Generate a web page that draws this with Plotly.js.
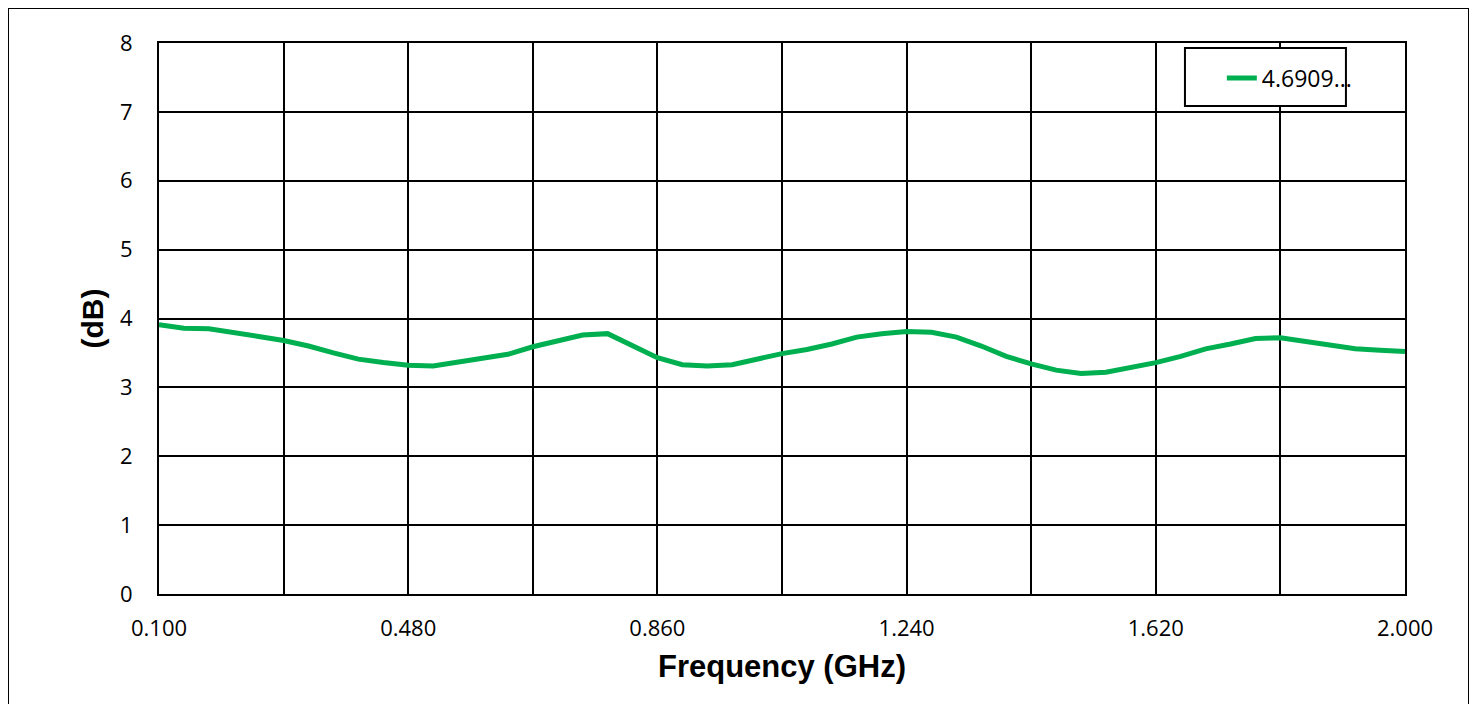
<!DOCTYPE html>
<html>
<head>
<meta charset="utf-8">
<script src="https://cdn.plot.ly/plotly-3.0.1.min.js"></script>
<style>
html,body{margin:0;padding:0;background:#fff;}
#wrap{position:relative;width:1477px;height:704px;overflow:hidden;}
#frame{position:absolute;left:8px;top:8px;width:1461px;height:720px;border:1.5px solid #000;box-sizing:border-box;pointer-events:none;}
#chart{position:absolute;left:0;top:0;width:1477px;height:704px;}
</style>
</head>
<body>
<div id="wrap">
<div id="chart"></div>
<div id="frame"></div>
</div>
<script>
var seriesName = "4.6909...";
var freqStart = 0.1;
var freqStep = 0.038;
var gainDb = [
  3.91, 3.86, 3.85, 3.80, 3.74, 3.68, 3.60, 3.50, 3.41, 3.36,
  3.32, 3.31, 3.37, 3.43, 3.48, 3.59, 3.68, 3.76, 3.78, 3.61,
  3.43, 3.33, 3.31, 3.33, 3.41, 3.49, 3.55, 3.63, 3.73, 3.78,
  3.81, 3.80, 3.73, 3.60, 3.45, 3.34, 3.25, 3.20, 3.22, 3.29,
  3.36, 3.45, 3.56, 3.63, 3.71, 3.72, 3.67, 3.61, 3.56, 3.54,
  3.52
];
var freqGHz = gainDb.map(function(_, i){ return +(freqStart + i*freqStep).toFixed(3); });
var xGridVals = [0.1, 0.29, 0.48, 0.67, 0.86, 1.05, 1.24, 1.43, 1.62, 1.81, 2.0];
var xTickText = ["0.100", "", "0.480", "", "0.860", "", "1.240", "", "1.620", "", "2.000"];

var trace = {
  x: freqGHz, y: gainDb, type: 'scatter', mode: 'lines', name: seriesName,
  line: {color: '#00B050', width: 5}
};
var tickFont = {size: 22, family: 'Open Sans, Liberation Sans, sans-serif', color: '#000'};
var layout = {
  width: 1477, height: 704,
  margin: {l: 159, r: 72, t: 43, b: 110},
  paper_bgcolor: 'rgba(0,0,0,0)', plot_bgcolor: '#fff',
  font: {family: 'Liberation Sans, Arial, sans-serif', color: '#000'},
  showlegend: true,
  legend: {
    x: 0.853, y: 0.9365, xanchor: 'left', yanchor: 'middle',
    borderwidth: 0, bgcolor: 'rgba(0,0,0,0)',
    font: {size: 23, family: 'Open Sans, Liberation Sans, sans-serif', color: '#000'}
  },
  shapes: [{
    type: 'rect', xref: 'paper', yref: 'paper', layer: 'above',
    x0: 0.8234, x1: 0.9526, y0: 0.8857, y1: 0.9909,
    line: {color: '#000', width: 2}, fillcolor: '#fff'
  }],
  xaxis: {
    range: [0.1, 2.0], tickmode: 'array', tickvals: xGridVals, ticktext: xTickText,
    showgrid: true, gridcolor: '#000', gridwidth: 2,
    showline: true, linecolor: '#000', linewidth: 2, mirror: true,
    zeroline: false, ticks: '', tickfont: tickFont, ticklabelstandoff: 14,
    title: {text: '<b>Frequency (GHz)</b>', font: {size: 31, family: 'Liberation Sans, Arial, sans-serif'}, standoff: 14}
  },
  yaxis: {
    range: [0, 8], dtick: 1, tick0: 0,
    showgrid: true, gridcolor: '#000', gridwidth: 2,
    showline: true, linecolor: '#000', linewidth: 2, mirror: true,
    zeroline: false, ticks: '', tickfont: tickFont, ticklabelstandoff: 20,
    title: {text: '<b>(dB)</b>', font: {size: 30, family: 'Liberation Sans, Arial, sans-serif'}, standoff: 8}
  }
};
Plotly.newPlot('chart', [trace], layout, {displayModeBar: false, staticPlot: true});
</script>
</body>
</html>
